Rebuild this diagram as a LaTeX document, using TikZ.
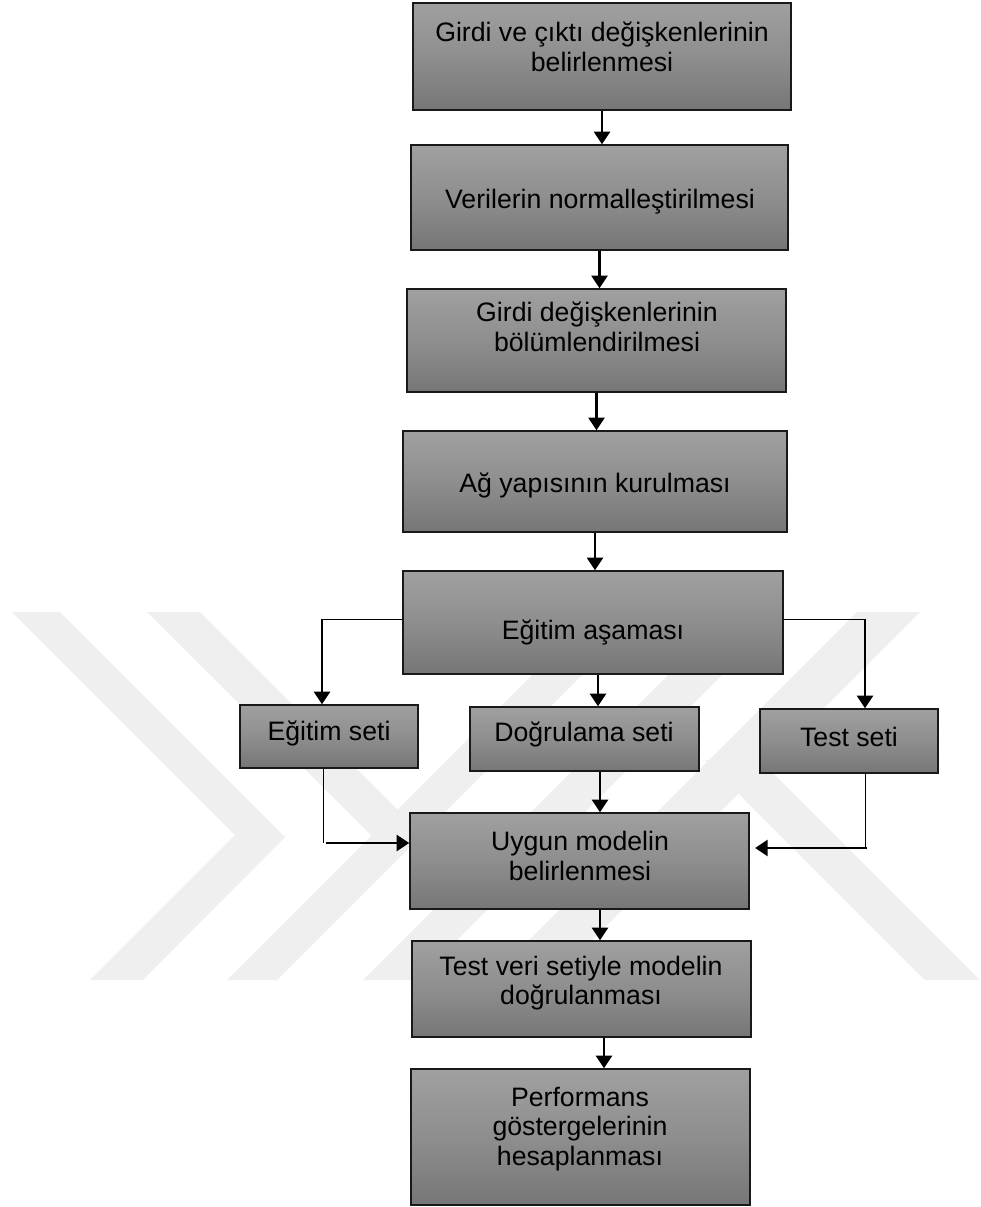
\documentclass[tikz,border=0pt]{standalone}
\usepackage{fontspec}
\setmainfont{Liberation Sans}
\usetikzlibrary{arrows.meta}

\definecolor{boxtop}{RGB}{160,160,160}
\definecolor{boxmid}{RGB}{142,142,142}
\definecolor{boxbot}{RGB}{118,118,118}
\definecolor{edge}{RGB}{25,25,25}
\definecolor{wmark}{RGB}{239,239,239}

\tikzset{
  flowbox/.style={draw=edge, line width=1.1pt, top color=boxtop, bottom color=boxbot,
    middle color=boxmid, inner sep=0pt, shape=rectangle},
  boxtext/.style={align=center, inner sep=0pt,
    font=\fontsize{20}{22.3}\selectfont},
  arr/.style={line width=1.9pt, draw=black,
    -{Triangle[width=12pt,length=9.5pt]}},
  thinln/.style={line width=0.75pt, draw=black},
  wm/.style={fill=wmark, draw=none}
}

% box from its corner pixels: name, x1, y1, x2, y2
\newcommand\flowrect[5]{%
  \node[flowbox, minimum width={(#4-#2)*0.75pt}, minimum height={(#5-#3)*0.75pt}]
    (#1) at ({(#2+#4)/2},{(#3+#5)/2}) {};}

\begin{document}
\begin{tikzpicture}[x=0.75pt, y=-0.75pt]
\useasboundingbox (0,0) rectangle (981,1207);
\fill[white] (0,0) rectangle (981,1207);

% pale emblem in the background
\fill[wm] (12,612) -- (60,612) -- (285,837) -- (143,980) -- (90,980) -- (235,835) -- cycle;
\fill[wm] (147,612) -- (200,612) -- (420,832) -- (372,836) -- cycle;
\fill[wm] (227,980) -- (277,980) -- (645,612) -- (595,612) -- cycle;
\fill[wm] (363,980) -- (417,980) -- (785,612) -- (731,612) -- cycle;
\fill[wm] (489,980) -- (552,980) -- (920,612) -- (857,612) -- cycle;
\fill[wm] (705,760) -- (760,760) -- (980,980) -- (925,980) -- cycle;

% boxes
\flowrect{b1}{413}{3}{791}{110}
\flowrect{b2}{411}{145}{788}{250}
\flowrect{b3}{407}{289}{786}{392}
\flowrect{b4}{403}{431}{787}{532}
\flowrect{b5}{403}{571}{783}{674}
\flowrect{es}{240}{705}{418}{768}
\flowrect{ds}{470}{707}{699}{771}
\flowrect{ts}{760}{709}{938}{773}
\flowrect{um}{410}{813}{749}{909}
\flowrect{tv}{412}{941}{751}{1037}
\flowrect{pf}{411}{1069}{750}{1205}

% texts
\node[boxtext] (t1) at (602,47) {Girdi ve çıktı değişkenlerinin\\belirlenmesi};
\node[boxtext] (t2) at (600,202) {Verilerin normalleştirilmesi};
\node[boxtext] (t3) at (597,327) {Girdi değişkenlerinin\\bölümlendirilmesi};
\node[boxtext] (t4) at (595,485) {Ağ yapısının kurulması};
\node[boxtext] (t5) at (593,632) {Eğitim aşaması};
\node[boxtext] (t6) at (329,733) {Eğitim seti};
\node[boxtext] (t7) at (584,734) {Doğrulama seti};
\node[boxtext] (t8) at (849,737) {Test seti};
\node[boxtext] (t9) at (580,856) {Uygun modelin\\belirlenmesi};
\node[boxtext] (t10) at (581,983) {Test veri setiyle modelin\\doğrulanması};
\node[boxtext] (t11) at (580,1129) {Performans\\göstergelerinin\\hesaplanması};

% column positions of the connectors
\coordinate (c5) at (598,0);
\coordinate (c7) at (600,0);
\coordinate (c9) at (604,0);
\coordinate (lt) at (322,619);
\coordinate (rt) at (865,619);
\coordinate (lb) at (323,843);
\coordinate (rb) at (865,848);

% main chain
\draw[arr] (b1.south) -- (b1.south |- b2.north);
\draw[arr] (b2.south) -- (b2.south |- b3.north);
\draw[arr] (b3.south) -- (b3.south |- b4.north);
\draw[arr] (b4.south) -- (b4.south |- b5.north);
\draw[arr] (b5.south -| c5) -- (ds.north -| c5);
\draw[arr] (ds.south -| c7) -- (um.north -| c7);
\draw[arr] (um.south -| c7) -- (tv.north -| c7);
\draw[arr] (tv.south -| c9) -- (pf.north -| c9);

% branches to the three data sets
\draw[thinln] (b5.west |- lt) -- (lt);
\draw[arr] (lt) -- (es.north -| lt);
\draw[thinln] (b5.east |- rt) -- (rt);
\draw[arr] (rt) -- (ts.north -| rt);

% returns from the side sets
\draw[thinln] (es.south -| lb) -- (lb);
\draw[arr] ([xshift=2.5]lb) -- (um.west |- lb);
\draw[thinln] (ts.south -| rb) -- (rb);
\draw[arr] ([xshift=1.5]rb) -- ([xshift=4]um.east |- rb);
\end{tikzpicture}
\end{document}
